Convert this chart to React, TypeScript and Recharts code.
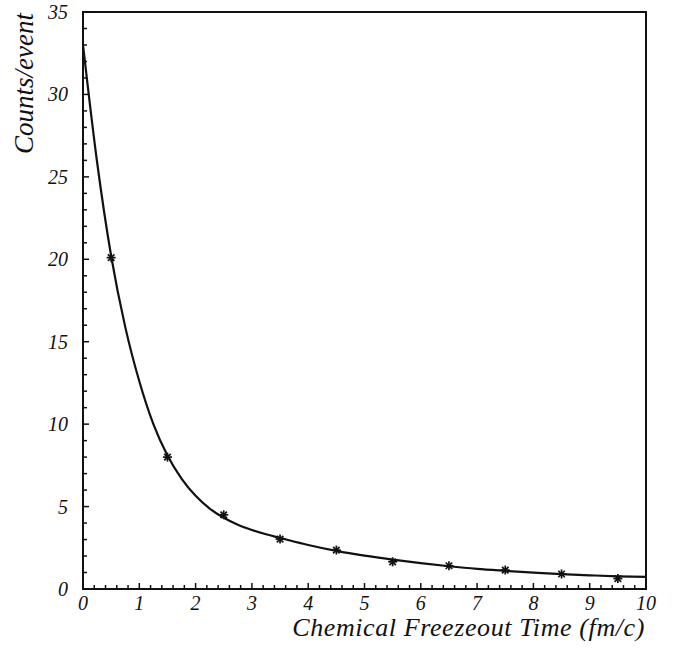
import React from "react";
import { ComposedChart, Line, Scatter, XAxis, YAxis, ReferenceArea } from "recharts";

// fitted curve
const curveT = [0, 0.25, 0.5, 0.75, 1.0, 1.25, 1.5, 1.75, 2.0, 2.25, 2.5, 2.75, 3.0, 3.25, 3.5, 4.0, 4.5, 5.0, 5.5, 6.0, 6.5, 7.0, 7.5, 8.0, 8.5, 9.0, 9.5, 10.0];
const curveY = [33.0, 25.9, 20.2, 15.9, 12.6, 10.0, 8.1, 6.7, 5.65, 4.88, 4.32, 3.9, 3.58, 3.32, 3.1, 2.67, 2.31, 2.02, 1.78, 1.57, 1.38, 1.22, 1.1, 0.99, 0.9, 0.83, 0.77, 0.73];

// measured points
const pointT = [0.5, 1.5, 2.5, 3.5, 4.5, 5.5, 6.5, 7.5, 8.5, 9.5];
const pointY = [20.1, 8.0, 4.5, 3.03, 2.36, 1.65, 1.41, 1.15, 0.91, 0.63];

const xTicks = Array.from({ length: 51 }, (_, i) => i / 5);
const yTicks = Array.from({ length: 36 }, (_, i) => i);

const xTitle = "Chemical Freezeout Time (fm/c)";
const yTitle = "Counts/event";

const curveData = curveT.map((t, i) => ({ t, fit: curveY[i] }));
const pointData = pointT.map((t, i) => ({ t, counts: pointY[i] }));

const INK = "#111";
const FONT = "'Liberation Serif', 'DejaVu Serif', serif";

const isMajor = (v: number) => Math.abs(v - Math.round(v)) < 1e-6;

const YTick = (props: any) => {
  const { x, y, payload } = props;
  const v = payload.value;
  const major = v % 5 === 0;
  return (
    <g>
      <line x1={x} y1={y} x2={x + (major ? 6 : 4)} y2={y} stroke={INK} strokeWidth={1.5} />
      {major && (
        <text x={x - 15} y={y} dy={7} textAnchor="end" fontFamily={FONT} fontStyle="italic" fontSize={20} fill={INK}>
          {v}
        </text>
      )}
    </g>
  );
};

const XTick = (props: any) => {
  const { x, y, payload } = props;
  const v = payload.value;
  const major = isMajor(v);
  return (
    <g>
      <line x1={x} y1={y} x2={x} y2={y - (major ? 6 : 4)} stroke={INK} strokeWidth={1.5} />
      {major && (
        <text x={x} y={y + 21} textAnchor="middle" fontFamily={FONT} fontStyle="italic" fontSize={20} fill={INK}>
          {Math.round(v)}
        </text>
      )}
    </g>
  );
};

const Star = (props: any) => {
  const { cx, cy } = props;
  const r = 4.5;
  const d = r * 0.72;
  return (
    <g stroke={INK} strokeWidth={1.7}>
      <line x1={cx - r} y1={cy} x2={cx + r} y2={cy} />
      <line x1={cx} y1={cy - r} x2={cx} y2={cy + r} />
      <line x1={cx - d} y1={cy - d} x2={cx + d} y2={cy + d} />
      <line x1={cx - d} y1={cy + d} x2={cx + d} y2={cy - d} />
    </g>
  );
};

export default function App() {
  return (
    <div style={{ position: "absolute", left: 0, top: 0, width: 679, height: 656, background: "#fff" }}>
      <ComposedChart width={679} height={656} margin={{ top: 12, right: 33, bottom: 27, left: 13 }}>
        <XAxis
          type="number"
          dataKey="t"
          domain={[0, 10]}
          ticks={xTicks}
          interval={0}
          height={40}
          axisLine={false}
          tickLine={false}
          tickSize={0}
          tickMargin={0}
          tick={<XTick />}
          allowDataOverflow
        />
        <YAxis
          type="number"
          domain={[0, 35]}
          ticks={yTicks}
          interval={0}
          width={70}
          axisLine={false}
          tickLine={false}
          tickSize={0}
          tickMargin={0}
          tick={<YTick />}
          allowDataOverflow
        />
        <ReferenceArea x1={0} x2={10} y1={0} y2={35} fill="none" fillOpacity={0} stroke={INK} strokeWidth={2} />
        <Line
          data={curveData}
          dataKey="fit"
          type="monotone"
          stroke={INK}
          strokeWidth={2.2}
          dot={false}
          activeDot={false}
          isAnimationActive={false}
        />
        <Scatter data={pointData} dataKey="counts" shape={<Star />} isAnimationActive={false} />
      </ComposedChart>
      <svg width={679} height={656} style={{ position: "absolute", left: 0, top: 0, pointerEvents: "none" }}>
        <text x={645} y={636} textAnchor="end" fontFamily={FONT} fontStyle="italic" fontSize={26} letterSpacing={0.6} fill={INK}>
          {xTitle}
        </text>
        <text
          x={0}
          y={0}
          transform="translate(33 13) rotate(-90)"
          textAnchor="end"
          fontFamily={FONT}
          fontStyle="italic"
          fontSize={27}
          fill={INK}
        >
          {yTitle}
        </text>
      </svg>
    </div>
  );
}
